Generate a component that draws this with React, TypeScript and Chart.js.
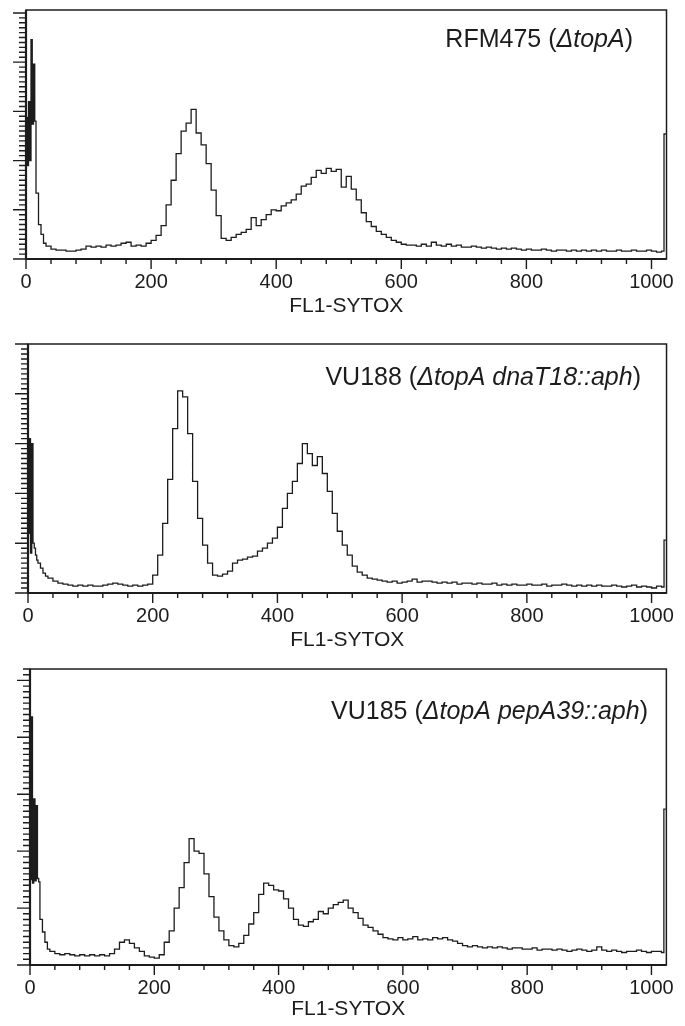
import React, { useEffect, useRef } from "react";
import { Chart, registerables } from "chart.js";

Chart.register(...registerables);

// ---------- data ----------
const X_LABELS = [0, 200, 400, 600, 800, 1000];
const FINE_CHANNELS = [0, 2, 4, 6, 8, 10, 12, 14, 16, 20, 24, 28];
const COARSE_CHANNELS = Array.from({ length: 124 }, (_, i) => 32 + i * 8);
const CHANNELS = [...FINE_CHANNELS, ...COARSE_CHANNELS, 1020, 1023];

const RFM475_COUNTS = [
  144, 95, 160, 100, 223, 137, 198, 140, 67, 35, 25, 16,
  13, 10, 9, 9, 8, 8, 9, 10,
  13, 12, 13, 12, 14, 13, 14, 16,
  17, 13, 14, 13, 16, 19, 24, 34,
  55, 80, 107, 130, 138, 152, 128, 116,
  97, 70, 44, 21, 19, 22, 25, 27,
  30, 42, 34, 40, 45, 50, 49, 54,
  57, 60, 66, 74, 76, 83, 90, 87,
  92, 89, 91, 73, 84, 71, 60, 47,
  38, 33, 28, 25, 22, 19, 17, 15,
  14, 14, 13, 15, 13, 17, 14, 13,
  15, 13, 14, 12, 12, 13, 12, 11,
  12, 11, 10, 11, 10, 11, 10, 9,
  10, 9, 9, 10, 9, 8, 9, 9,
  8, 9, 8, 9, 8, 9, 8, 9,
  8, 8, 9, 8, 8, 9, 8, 8,
  9, 8, 7, 8,
  127, 127,
];

const VU188_COUNTS = [
  60, 155, 40, 150, 50, 45, 38, 33, 30, 25, 20, 17,
  15, 12, 10, 9, 8, 7, 8, 7,
  8, 7, 7, 8, 9, 10, 9, 8,
  7, 8, 7, 8, 9, 18, 38, 70,
  114, 165, 203, 197, 160, 112, 75, 48,
  30, 18, 17, 19, 22, 30, 33, 34,
  36, 37, 42, 45, 50, 55, 66, 85,
  100, 112, 130, 150, 140, 128, 137, 120,
  102, 80, 62, 48, 38, 27, 21, 18,
  15, 14, 13, 12, 11, 12, 10, 11,
  12, 14, 11, 12, 12, 11, 10, 11,
  10, 11, 9, 10, 10, 9, 10, 9,
  9, 10, 8, 9, 8, 9, 8, 8,
  9, 8, 8, 9, 7, 8, 8, 9,
  8, 7, 8, 7, 8, 7, 8, 7,
  7, 8, 7, 6, 7, 8, 6, 7,
  6, 5, 7, 6,
  53, 53,
];

const VU185_COUNTS = [
  75, 218, 72, 146, 74, 140, 76, 73, 40, 29, 20, 14,
  12, 10, 9, 10, 9, 8, 9, 8,
  9, 8, 9, 8, 10, 14, 20, 22,
  19, 15, 12, 8, 7, 6, 9, 20,
  30, 50, 68, 90, 111, 100, 98, 80,
  60, 42, 30, 22, 17, 16, 19, 26,
  36, 46, 62, 72, 70, 66, 65, 58,
  50, 40, 35, 34, 38, 40, 47, 45,
  50, 53, 55, 57, 50, 46, 41, 35,
  33, 30, 27, 24, 23, 22, 24, 22,
  23, 25, 22, 23, 22, 24, 23, 24,
  22, 21, 19, 17, 16, 17, 16, 15,
  16, 15, 16, 15, 14, 15, 15, 14,
  14, 15, 13, 14, 14, 13, 14, 13,
  12, 13, 14, 13, 12, 13, 16, 13,
  12, 13, 12, 11, 12, 12, 13, 12,
  11, 12, 12, 11,
  137, 137,
];

const RFM475_LABEL: [string, boolean][] = [["RFM475 (", false], ["\u0394topA", true], [")", false]];
const VU188_LABEL: [string, boolean][] = [["VU188 (", false], ["\u0394topA dnaT18::aph", true], [")", false]];
const VU185_LABEL: [string, boolean][] = [["VU185 (", false], ["\u0394topA pepA39::aph", true], [")", false]];

const X_TITLE = "FL1-SYTOX";

// ---------- style ----------
const INK = "#1c1c1c";
const FONT = '"Liberation Sans", Arial, Helvetica, sans-serif';

type PanelCfg = {
  counts: number[];
  ymax: number;
  label: [string, boolean][];
  top: number;
  height: number;
  padTop: number;
  padLeft: number;
  padRight: number;
  axisH: number;
  titlePad: number;
  labelRight: number;
  labelBaseline: number;
};

const PANELS: PanelCfg[] = [
  { counts: RFM475_COUNTS, ymax: 253, label: RFM475_LABEL, top: 0, height: 322, padTop: 10, padLeft: 26, padRight: 11, axisH: 63, titlePad: 3, labelRight: 633, labelBaseline: 47 },
  { counts: VU188_COUNTS, ymax: 250, label: VU188_LABEL, top: 325, height: 330, padTop: 19, padLeft: 28, padRight: 8, axisH: 62, titlePad: 2, labelRight: 641, labelBaseline: 60 },
  { counts: VU185_COUNTS, ymax: 260, label: VU185_LABEL, top: 655, height: 371, padTop: 14, padLeft: 30, padRight: 13, axisH: 61, titlePad: 4, labelRight: 648, labelBaseline: 64 },
];

function makeDecor(cfg: PanelCfg) {
  return {
    id: "facsDecor",
    afterDatasetsDraw(chart: any) {
      const { ctx, chartArea: a, scales } = chart;
      const x = scales.x;
      const y = scales.y;
      ctx.save();
      ctx.strokeStyle = INK;
      ctx.lineWidth = 1.4;
      ctx.beginPath();
      for (let v = 0; v <= cfg.ymax + 0.001; v += 5) {
        const py = y.getPixelForValue(v);
        const len = v % 50 === 0 ? 13 : 7;
        ctx.moveTo(a.left - len, py);
        ctx.lineTo(a.left, py);
      }
      for (let v = 0; v <= 1000; v += 40) {
        const px = x.getPixelForValue(v);
        const len = v % 200 === 0 ? 10 : 5;
        ctx.moveTo(px, a.bottom);
        ctx.lineTo(px, a.bottom + len);
      }
      ctx.stroke();
      ctx.lineWidth = 1.5;
      ctx.strokeRect(a.left, a.top, a.right - a.left, a.bottom - a.top);
      ctx.lineWidth = 2.2;
      ctx.beginPath();
      ctx.moveTo(a.left, a.top);
      ctx.lineTo(a.left, a.bottom);
      ctx.lineTo(a.right, a.bottom);
      ctx.stroke();

      // strain label
      ctx.fillStyle = INK;
      ctx.textBaseline = "alphabetic";
      ctx.textAlign = "left";
      const fontFor = (it: boolean) => `${it ? "italic " : ""}25px ${FONT}`;
      let total = 0;
      for (const [t, it] of cfg.label) {
        ctx.font = fontFor(it);
        total += ctx.measureText(t).width;
      }
      let cx = cfg.labelRight - total;
      for (const [t, it] of cfg.label) {
        ctx.font = fontFor(it);
        ctx.fillText(t, cx, cfg.labelBaseline);
        cx += ctx.measureText(t).width;
      }
      ctx.restore();
    },
  };
}

function Panel({ cfg }: { cfg: PanelCfg }) {
  const ref = useRef<HTMLCanvasElement>(null);
  useEffect(() => {
    const chart = new Chart(ref.current as HTMLCanvasElement, {
      type: "line",
      data: {
        datasets: [
          {
            data: CHANNELS.map((c, i) => ({ x: c, y: cfg.counts[i] })),
            stepped: "before",
            borderColor: INK,
            borderWidth: 1.3,
            pointRadius: 0,
            fill: false,
            tension: 0,
          },
        ],
      },
      options: {
        animation: false,
        responsive: false,
        devicePixelRatio: 1,
        layout: { padding: { top: cfg.padTop, left: cfg.padLeft, right: cfg.padRight, bottom: 0 } },
        plugins: { legend: { display: false }, tooltip: { enabled: false }, title: { display: false } },
        scales: {
          x: {
            type: "linear",
            min: 0,
            max: 1024,
            afterBuildTicks: (s: any) => {
              s.ticks = X_LABELS.map((v) => ({ value: v }));
            },
            afterFit: (s: any) => {
              s.height = cfg.axisH;
            },
            grid: { display: false, drawTicks: false },
            border: { display: false },
            ticks: {
              padding: 11,
              color: INK,
              font: { family: FONT, size: 20 },
              maxRotation: 0,
              autoSkip: false,
              callback: (v: any) => String(v),
            },
            title: {
              display: true,
              text: X_TITLE,
              color: INK,
              font: { family: FONT, size: 21 },
              padding: { top: 0, bottom: cfg.titlePad },
            },
          },
          y: { display: false, min: 0, max: cfg.ymax },
        },
      },
      plugins: [makeDecor(cfg)],
    } as any);
    return () => chart.destroy();
  }, [cfg]);
  return (
    <canvas
      ref={ref}
      width={685}
      height={cfg.height}
      style={{ position: "absolute", left: 0, top: cfg.top, width: 685, height: cfg.height }}
    />
  );
}

export default function App() {
  return (
    <div style={{ position: "relative", width: 685, height: 1026, background: "#fff" }}>
      <style>{`body{margin:0;background:#fff;}`}</style>
      {PANELS.map((p, i) => (
        <Panel key={i} cfg={p} />
      ))}
    </div>
  );
}
